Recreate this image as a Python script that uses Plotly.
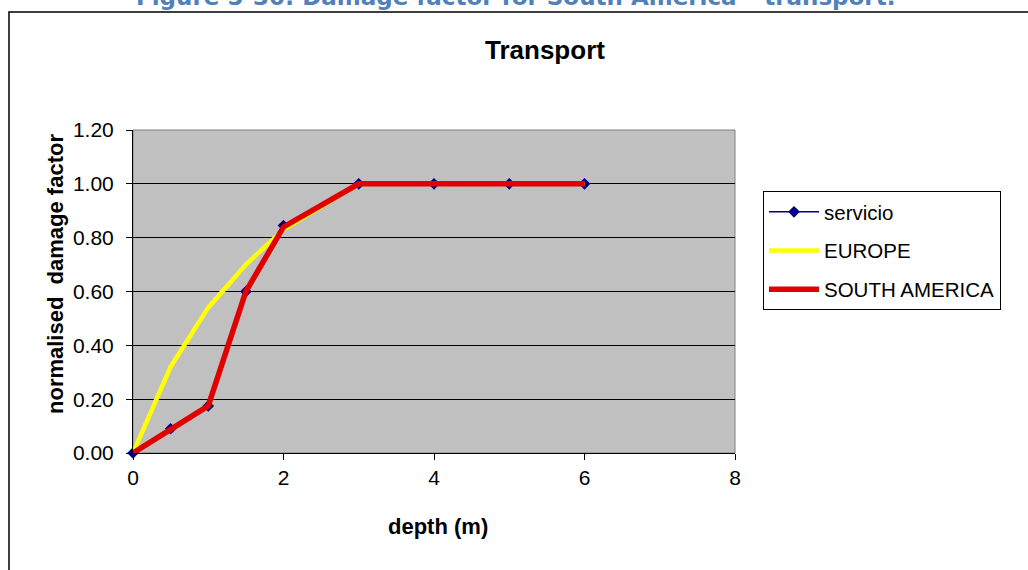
import plotly.graph_objects as go

depth = [0, 0.5, 1, 1.5, 2, 3, 4, 5, 6]
servicio = [0, 0.09, 0.175, 0.60, 0.845, 1.0, 1.0, 1.0, 1.0]
europe = [0, 0.32, 0.54, 0.70, 0.83, 1.0, 1.0, 1.0, 1.0]
south_america = [0, 0.09, 0.175, 0.60, 0.84, 1.0, 1.0, 1.0, 1.0]

x_ticks = [0, 2, 4, 6, 8]
y_ticks = [0, 0.2, 0.4, 0.6, 0.8, 1.0, 1.2]

W, H = 1028, 570
L, R, T, B = 133, 735, 130, 453
pw, ph = R - L, B - T


def px(x):
    return (x - L) / pw


def py(y):
    return (B - y) / ph


fig = go.Figure()
fig.add_trace(go.Scatter(x=depth, y=servicio, name="servicio", mode="lines+markers",
                         legendgroup="g1",
                         line=dict(color="#000080", width=1.5),
                         marker=dict(symbol="diamond", size=9, color="#000080"),
                         cliponaxis=False))
fig.add_trace(go.Scatter(x=depth, y=europe, name="EUROPE", mode="lines",
                         legendgroup="g2",
                         line=dict(color="#FFFF00", width=4.5), cliponaxis=False))
fig.add_trace(go.Scatter(x=depth, y=south_america, name="SOUTH AMERICA", mode="lines",
                         legendgroup="g3",
                         line=dict(color="#E00000", width=5.5), cliponaxis=False))

font_family = "Liberation Sans, Arial, sans-serif"

fig.update_layout(
    width=W, height=H,
    margin=dict(l=L, r=W - R, t=T, b=H - B),
    paper_bgcolor="white",
    plot_bgcolor="#C0C0C0",
    font=dict(family=font_family, size=20, color="black"),
    showlegend=True,
    legend=dict(x=px(763), y=py(191), xanchor="left", yanchor="top",
                bordercolor="black", borderwidth=1, bgcolor="white",
                font=dict(size=20.5, family=font_family), tracegroupgap=9,
                itemwidth=50),
    xaxis=dict(range=[0, 8], tickvals=x_ticks, showgrid=False, zeroline=False,
               showline=True, linecolor="black", linewidth=1,
               ticks="outside", ticklen=6, tickcolor="black",
               tickfont=dict(size=21)),
    yaxis=dict(range=[0, 1.2], tickvals=y_ticks, tickformat=".2f",
               showgrid=True, gridcolor="black", gridwidth=1, zeroline=False,
               showline=True, linecolor="black", linewidth=1,
               ticks="outside", ticklen=6, tickcolor="black",
               ticklabelstandoff=8, tickfont=dict(size=21)),
    shapes=[
        dict(type="rect", xref="paper", yref="paper", x0=0, x1=1, y0=0, y1=1,
             line=dict(color="#808080", width=1), layer="between"),
        dict(type="rect", xref="paper", yref="paper",
             x0=px(9), x1=px(1040), y0=py(590), y1=py(12),
             line=dict(color="black", width=1.5), layer="above"),
    ],
    annotations=[
        dict(text="<b>Figure 5-30: Damage factor for South America – transport.</b>",
             xref="paper", yref="paper", x=px(515), y=py(12),
             xanchor="center", yanchor="bottom", showarrow=False,
             font=dict(family="DejaVu Sans, Verdana, sans-serif", size=23, color="#4F81BD")),
        dict(text="<b>Transport</b>", xref="paper", yref="paper",
             x=px(545), y=py(50), xanchor="center", yanchor="middle",
             showarrow=False, font=dict(size=26)),
        dict(text="<b>normalised  damage factor</b>", xref="paper", yref="paper",
             x=px(55), y=py(274), xanchor="center", yanchor="middle",
             textangle=-90, showarrow=False, font=dict(size=22)),
        dict(text="<b>depth (m)</b>", xref="paper", yref="paper",
             x=px(438), y=py(526), xanchor="center", yanchor="middle",
             showarrow=False, font=dict(size=22)),
    ],
)

fig.write_html("out.html", config={"displayModeBar": False},
               post_script="document.body.style.margin='0';")
